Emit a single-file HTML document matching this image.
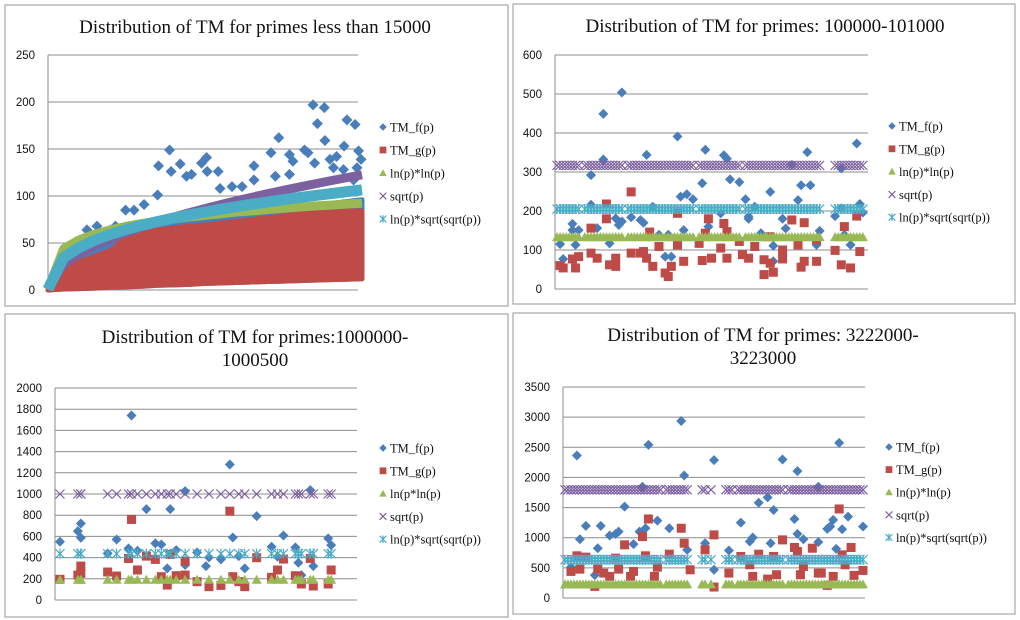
<!DOCTYPE html>
<html><head><meta charset="utf-8"><style>
body{margin:0;background:#fff;width:1020px;height:620px;overflow:hidden}
svg{display:block}
.tt{font-family:"Liberation Serif",serif;font-size:19px;fill:#111}
.tk{font-family:"Liberation Sans",sans-serif;font-size:11.5px;fill:#111}
.lg{font-family:"Liberation Serif",serif;font-size:12.5px;fill:#111}
</style></head><body>
<svg id="c" width="1020" height="620"></svg>
<script>
// ---- Panel 1 data (t = fraction along prime range, 0..1) ----
const p1T = [0,0.05,0.1,0.15,0.2,0.25,0.3,0.35,0.4,0.45,0.5,0.55,0.6,0.65,0.7,0.75,0.8,0.85,0.9,0.95,1];
const p1Sqrt = [1.4,27.4,38.7,47.4,54.8,61.2,67.1,72.5,77.5,82.2,86.6,90.8,94.9,98.7,102.5,106.1,109.5,112.9,116.2,119.4,122.5];
const p1LnLn = [0.5,44,53.5,59.5,64.1,67.8,70.8,73.4,75.7,77.7,79.4,81.1,82.9,84.2,85.6,86.9,88.2,89.4,90.3,91.4,92.4];
const p1LnSq = [0.8,34.6,45.3,53.2,59.3,64.4,68.9,72.9,76.6,79.9,83.0,86.0,88.6,91.3,93.7,96.1,98.3,100.5,102.5,104.5,106.5];
const p1RedHi = [0,20,30,36,42,56,60,64,66,68,69,71,73,75,77,79,81,82,83,84,84];
const p1RedLo = [0,1,1.5,2,3,3.5,4,5,5.5,6,7,7.5,8,8.5,9,9.5,10,10.5,11,11.5,12];
const p1BlueHi = [0,26,38,46,52,58,62,66,70,73,76,78,80,82,84,86,88,90,92,94,96];
const p1OutT = [0.247,0.274,0.306,0.349,0.352,0.387,0.392,0.421,0.441,0.457,0.489,0.505,0.507,0.542,0.548,0.586,0.618,0.656,0.656,0.710,0.724,0.735,0.769,0.780,0.769,0.817,0.828,0.844,0.849,0.858,0.880,0.882,0.898,0.919,0.943,0.952,0.978,0.989,0.997,0.984,0.973,0.941,0.909,0.124,0.156,0.199,0.215];
const p1OutV = [85,85,91,101,132,149,126,134,121,123,135,141,126,126,108,110,110,132,117,146,121,162,144,137,123,149,146,197,135,177,194,159,139,142,153,181,176,148,139,130,117,128,130,64,68,64,68];
// ---- Panel 2 data (x = position index 0..100) ----
const p2FX = [1,2,5,5,6,7,11,11,13,15,15,17,19,20,21,21,24,27,28,29,31,33,36,35,37,39,41,40,42,44,47,48,49,53,54,55,56,59,61,62,62,64,66,69,70,70,73,74,76,78,79,81,82,85,84,90,92,92,93,95,97,98,99];
const p2FV = [115,77,151,167,113,151,292,216,156,449,332,117,181,164,504,173,184,177,170,344,211,139,139,83,83,391,151,237,243,230,271,357,160,194,343,334,281,274,230,186,180,211,143,249,111,71,180,155,318,228,266,351,266,149,113,187,309,207,139,113,373,218,196];
const p2GX = [1,2,5,6,7,11,11,13,16,16,17,19,19,24,24,27,28,29,30,31,33,35,36,37,39,39,41,46,47,48,49,50,53,54,55,55,59,60,62,64,67,67,69,69,70,73,73,76,78,79,80,80,84,84,90,92,93,95,97,98];
const p2GV = [60,54,77,54,83,156,92,79,218,180,62,58,79,249,92,92,96,79,146,58,109,41,32,58,194,113,71,117,73,143,180,79,105,168,147,79,122,88,79,109,75,37,134,66,43,77,100,177,113,56,71,170,126,71,99,62,160,54,187,96];
const p2CX = [0,1,2,3,4,5,6,7,9,10,11,12,13,14,15,16,17,18,19,20,21,23,24,25,26,27,28,29,30,31,32,33,34,35,36,37,38,39,40,41,42,43,44,46,47,48,49,50,51,52,53,54,55,56,57,58,59,61,62,63,64,65,66,67,68,69,70,71,72,73,74,75,76,77,78,79,80,81,82,83,84,85,90,91,92,93,94,95,96,97,98,99];
const p2LnLn = [133,133,133,133,133,133,133,133,133,133,133,133,133,133,133,133,133,133,133,133,133,133,133,133,133,133,133,133,133,133,133,133,133,133,133,133,133,133,133,133,133,133,133,133,133,133,133,133,133,133,133,133,133,133,133,133,133,133,133,133,133,133,133,133,133,133,133,133,133,133,133,133,133,133,133,133,133,133,133,133,133,133,133,133,133,133,133,133,133,133,133,133];
const p2Sqrt = [317,317,317,317,317,317,317,317,317,317,317,317,317,317,317,317,317,317,317,317,317,317,317,317,317,317,317,317,317,317,317,317,317,317,317,317,317,317,317,317,317,317,317,317,317,317,317,317,317,317,317,317,317,317,317,317,317,317,317,317,317,317,317,317,317,317,317,317,317,317,317,317,317,317,317,317,317,317,317,317,317,317,317,317,317,317,317,317,317,317,317,317];
const p2LnSq = [205,205,205,205,205,205,205,205,205,205,205,205,205,205,205,205,205,205,205,205,205,205,205,205,205,205,205,205,205,205,205,205,205,205,205,205,205,205,205,205,205,205,205,205,205,205,205,205,205,205,205,205,205,205,205,205,205,205,205,205,205,205,205,205,205,205,205,205,205,205,205,205,205,205,205,205,205,205,205,205,205,205,205,205,205,205,205,205,205,205,205,205];
// ---- Panel 3 data ----
const p3FX = [1,7,8,8,25,20,17,24,27,30,33,35,37,38,40,43,43,47,50,51,55,58,59,61,63,67,72,74,76,80,81,82,85,86,91,92];
const p3FV = [550,650,722,587,1740,571,440,487,465,857,534,524,298,857,471,330,1027,449,320,402,383,1278,590,414,298,791,502,408,609,496,352,235,1036,320,581,518];
const p3GX = [1,7,8,8,17,20,24,25,27,30,33,35,37,38,40,43,43,47,51,55,58,59,61,63,67,72,74,76,80,81,82,85,86,91,92];
const p3GV = [195,235,320,251,264,226,392,760,283,414,383,220,141,430,229,367,235,173,126,138,838,220,173,126,399,214,283,386,229,220,151,392,132,151,283];
const p3CX = [1,7,8,8,17,20,24,25,27,30,33,35,37,38,40,43,47,51,55,58,61,63,67,72,74,76,80,81,82,85,86,91,92];
const p3LnLn = [191,191,191,191,191,191,191,191,191,191,191,191,191,191,191,191,191,191,191,191,191,191,191,191,191,191,191,191,191,191,191,191,191];
const p3Sqrt = [1000,1000,1000,1000,1000,1000,1000,1000,1000,1000,1000,1000,1000,1000,1000,1000,1000,1000,1000,1000,1000,1000,1000,1000,1000,1000,1000,1000,1000,1000,1000,1000,1000];
const p3LnSq = [437,437,437,437,437,437,437,437,437,437,437,437,437,437,437,437,437,437,437,437,437,437,437,437,437,437,437,437,437,437,437,437,437];
// ---- Panel 4 data ----
const p4FX = [2,4,5,7,10,11,12,15,17,18,20,23,25,26,27,28,31,35,39,40,41,47,50,50,55,59,62,63,65,68,70,69,73,77,78,78,80,85,85,88,89,90,91,92,93,95,100];
const p4FV = [512,2364,975,1196,380,826,1196,1036,1063,1102,1515,893,1102,1846,1157,2540,1284,1157,2937,2033,799,909,2287,468,788,1251,937,1003,1581,1670,1460,909,2298,1311,1063,2105,975,1846,926,1146,1185,1295,815,2573,1141,1350,1185];
const p4GX = [2,4,5,7,10,11,13,15,17,18,20,22,23,26,27,28,30,31,35,39,40,42,47,50,50,55,59,62,63,65,68,70,71,73,77,78,79,80,83,85,86,88,90,92,93,94,96,97,100];
const p4GV = [441,700,479,678,193,479,413,358,661,479,882,358,441,1019,700,1311,358,512,727,1157,909,468,799,1047,182,413,689,551,358,727,314,689,386,964,838,771,386,523,826,413,413,209,358,1477,716,551,838,375,457];
const p4CX = [0,1,2,3,4,5,6,7,8,9,10,11,12,13,14,15,16,17,18,19,20,21,22,23,24,25,26,27,28,29,30,31,32,34,35,36,37,38,39,40,41,46,47,49,54,55,56,58,59,60,61,62,63,64,65,66,67,68,69,70,71,72,73,75,76,77,78,79,80,81,82,83,84,85,86,87,88,89,90,91,92,93,94,95,96,97,98,99,100];
const p4LnLn = [225,225,225,225,225,225,225,225,225,225,225,225,225,225,225,225,225,225,225,225,225,225,225,225,225,225,225,225,225,225,225,225,225,225,225,225,225,225,225,225,225,225,225,225,225,225,225,225,225,225,225,225,225,225,225,225,225,225,225,225,225,225,225,225,225,225,225,225,225,225,225,225,225,225,225,225,225,225,225,225,225,225,225,225,225,225,225,225,225];
const p4Sqrt = [1795,1795,1795,1795,1795,1795,1795,1795,1795,1795,1795,1795,1795,1795,1795,1795,1795,1795,1795,1795,1795,1795,1795,1795,1795,1795,1795,1795,1795,1795,1795,1795,1795,1795,1795,1795,1795,1795,1795,1795,1795,1795,1795,1795,1795,1795,1795,1795,1795,1795,1795,1795,1795,1795,1795,1795,1795,1795,1795,1795,1795,1795,1795,1795,1795,1795,1795,1795,1795,1795,1795,1795,1795,1795,1795,1795,1795,1795,1795,1795,1795,1795,1795,1795,1795,1795,1795,1795,1795];
const p4LnSq = [635,635,635,635,635,635,635,635,635,635,635,635,635,635,635,635,635,635,635,635,635,635,635,635,635,635,635,635,635,635,635,635,635,635,635,635,635,635,635,635,635,635,635,635,635,635,635,635,635,635,635,635,635,635,635,635,635,635,635,635,635,635,635,635,635,635,635,635,635,635,635,635,635,635,635,635,635,635,635,635,635,635,635,635,635,635,635,635,635];

const C = {f:'#4a7ebb', g:'#be4b48', ln:'#98b954', sq:'#7d60a0', ls:'#4bacc6'};
const svg = document.getElementById('c');
const NS = 'http://www.w3.org/2000/svg';
function mk(tag, attrs, parent){
  const e = document.createElementNS(NS, tag);
  for (const k in attrs) e.setAttribute(k, attrs[k]);
  (parent || svg).appendChild(e);
  return e;
}
function marker(g, type, x, y, s){
  let e;
  if (type==='f') e = mk('polygon',{points:`${x},${y-5*s} ${x+5*s},${y} ${x},${y+5*s} ${x-5*s},${y}`,fill:C.f},g);
  else if (type==='g') e = mk('rect',{x:x-4.5*s,y:y-4.5*s,width:9*s,height:9*s,fill:C.g},g);
  else if (type==='ln') e = mk('polygon',{points:`${x},${y-5*s} ${x+5*s},${y+4*s} ${x-5*s},${y+4*s}`,fill:C.ln},g);
  else if (type==='sq') e = mk('path',{d:`M${x-4.5*s},${y-4.5*s}L${x+4.5*s},${y+4.5*s}M${x+4.5*s},${y-4.5*s}L${x-4.5*s},${y+4.5*s}`,stroke:C.sq,'stroke-width':1.2,fill:'none'},g);
  else e = mk('path',{d:`M${x-4.5*s},${y-4.5*s}L${x+4.5*s},${y+4.5*s}M${x+4.5*s},${y-4.5*s}L${x-4.5*s},${y+4.5*s}M${x},${y-5*s}L${x},${y+5*s}`,stroke:C.ls,'stroke-width':1.2,fill:'none'},g);
  
  
  return e;
}
function frame(P){
  const g = mk('g',{});
  
  
  const b = mk('rect',{x:P.bx,y:P.by,width:P.bw,height:P.bh,fill:'#fff',stroke:'#a6a6a6','stroke-width':1.2},g);
   
  P.title.forEach((t,i)=>{
    const e = mk('text',{x:P.tx,y:P.ty+i*23,'text-anchor':'middle',class:'tt'},g);
    e.textContent = t;
     
  });
  const Y = v => P.y0 - (v/P.ymax)*(P.y0-P.y1);
  for (let v=0; v<=P.ymax; v+=P.step){
    const y = Y(v);
    const gl = mk('line',{x1:P.x0,x2:P.x1,y1:y,y2:y,stroke:'#8c8c8c','stroke-width':1},g);
     
    const t = mk('text',{x:P.x0-13,y:y+4,'text-anchor':'end',class:'tk'},g);
    t.textContent = v;
     
  }
  const ax = mk('line',{x1:P.x0,x2:P.x0,y1:P.y1,y2:P.y0,stroke:'#8c8c8c','stroke-width':1},g);
   
  const labels = ['TM_f(p)','TM_g(p)',P.lnLabel,'sqrt(p)','ln(p)*sqrt(sqrt(p))'];
  const types = ['f','g','ln','sq','ls'];
  const lg = mk('g',{},g);
   
  labels.forEach((l,i)=>{
    const y = P.ly + i*P.lgap;
    marker(lg, types[i], P.lx, y, 0.75);
    const t = mk('text',{x:P.lx+7,y:y+4.5,class:'lg'},lg);
    t.textContent = l;
     
  });
  return {g, Y, X: i => P.x0 + 2 + (i/100)*(P.x1-P.x0-4)};
}
function scatter(F, type, xs, vs){
  const g = mk('g',{},F.g);
   
  xs.forEach((x,i)=> marker(g, type, F.X(x), F.Y(vs[i]), 1));
}
// Panel 1
(function(){
  const P = {name:'panel-primes-lt-15000',bx:5,by:5,bw:503,bh:301,tx:255,ty:33,title:['Distribution of TM for primes less than 15000'],
    x0:48,x1:358,y0:290,y1:55,ymax:250,step:50,lx:383,ly:127,lgap:23,lnLabel:'ln(p)*ln(p)'};
  const F = frame(P);
  const X = t => 48 + t*314;
  function band(hi, lo, color, name){
    let pts = p1T.map((t,i)=>`${X(t)},${F.Y(hi[i])}`);
    pts = pts.concat(p1T.map((t,i)=>`${X(t)},${F.Y(lo[i])}`).reverse());
    const e = mk('polygon',{points:pts.join(' '),fill:color,stroke:color,'stroke-width':5,'stroke-linejoin':'round'},F.g);
     
  }
  band(p1BlueHi, p1RedLo, C.f, 'tmf-dense-band');
  const og = mk('g',{},F.g);
   
  p1OutT.forEach((t,i)=> marker(og,'f',X(t),F.Y(p1OutV[i]),1.1));
  band(p1RedHi, p1RedLo, C.g, 'tmg-dense-band');
  [[p1LnLn,C.ln,'lnln-curve',9],[p1Sqrt,C.sq,'sqrt-curve',9],[p1LnSq,C.ls,'lnsqrt-curve',11]].forEach(([arr,col,nm,w])=>{
    const e = mk('polyline',{points:p1T.map((t,i)=>`${X(t)},${F.Y(arr[i])}`).join(' '),fill:'none',stroke:col,'stroke-width':w,'stroke-linejoin':'round'},F.g);
     
  });
})();
// Panel 2
(function(){
  const P = {name:'panel-primes-100000',bx:513,by:4,bw:502,bh:300,tx:765,ty:32,title:['Distribution of TM for primes: 100000-101000'],
    x0:555,x1:868,y0:289,y1:55,ymax:600,step:100,lx:892,ly:126,lgap:22.8,lnLabel:'ln(p)*ln(p)'};
  const F = frame(P);
  scatter(F,'f',p2FX,p2FV); scatter(F,'g',p2GX,p2GV);
  scatter(F,'ln',p2CX,p2LnLn); scatter(F,'sq',p2CX,p2Sqrt); scatter(F,'ls',p2CX,p2LnSq);
})();
// Panel 3
(function(){
  const P = {name:'panel-primes-1000000',bx:5,by:314,bw:503,bh:303,tx:255,ty:343,title:['Distribution of TM for primes:1000000-','1000500'],
    x0:55,x1:357,y0:600,y1:388,ymax:2000,step:200,lx:383,ly:448,lgap:22.8,lnLabel:'ln(p*ln(p)'};
  const F = frame(P);
  scatter(F,'f',p3FX,p3FV); scatter(F,'g',p3GX,p3GV);
  scatter(F,'ln',p3CX,p3LnLn); scatter(F,'sq',p3CX,p3Sqrt); scatter(F,'ls',p3CX,p3LnSq);
})();
// Panel 4
(function(){
  const P = {name:'panel-primes-3222000',bx:513,by:313,bw:502,bh:301,tx:763,ty:341,title:['Distribution of TM for primes: 3222000-','3223000'],
    x0:563,x1:865,y0:598,y1:387,ymax:3500,step:500,lx:889,ly:447,lgap:22.6,lnLabel:'ln(p)*ln(p)'};
  const F = frame(P);
  scatter(F,'f',p4FX,p4FV); scatter(F,'g',p4GX,p4GV);
  scatter(F,'ln',p4CX,p4LnLn); scatter(F,'sq',p4CX,p4Sqrt); scatter(F,'ls',p4CX,p4LnSq);
})();
</script>
</body></html>
